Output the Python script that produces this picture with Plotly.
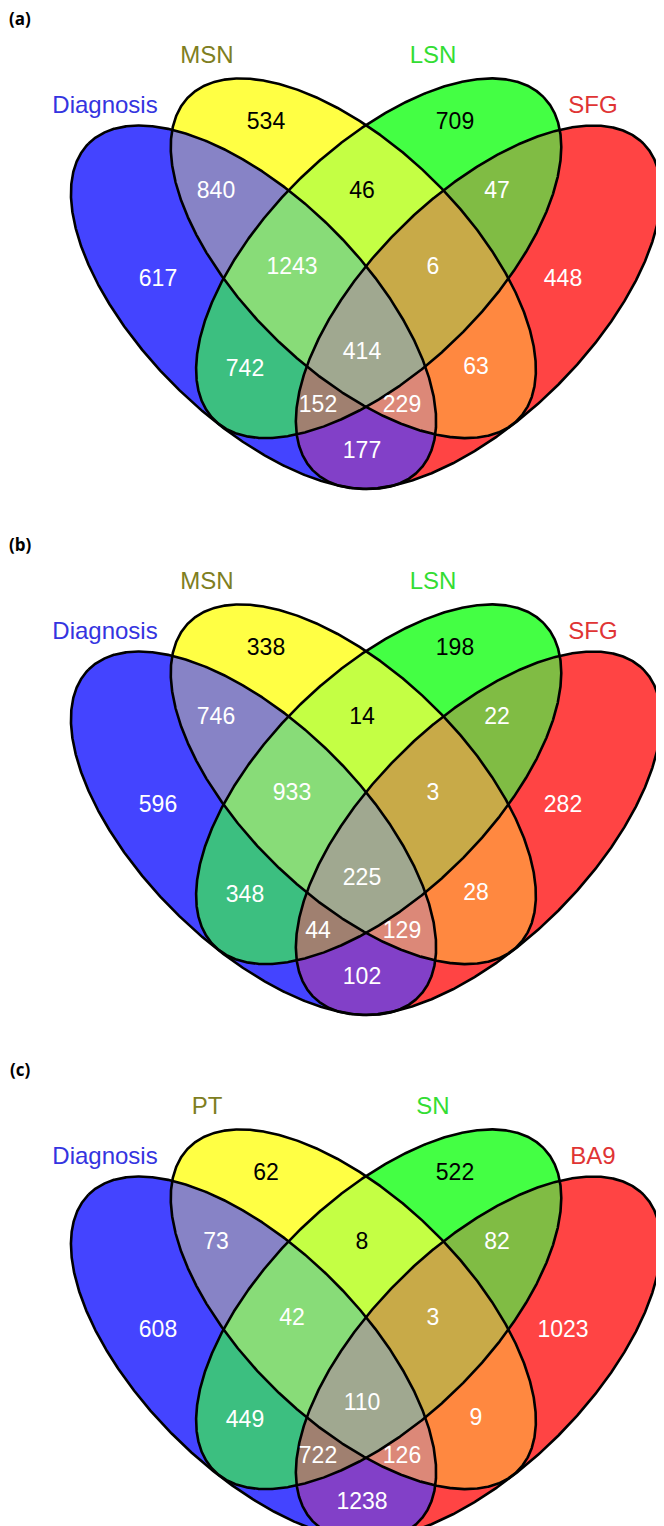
import numpy as np
import plotly.graph_objects as go

# ---------------- data ----------------
panel_tags = ["(a)", "(b)", "(c)"]
set_names_a = ["Diagnosis", "MSN", "LSN", "SFG"]
set_names_b = ["Diagnosis", "MSN", "LSN", "SFG"]
set_names_c = ["Diagnosis", "PT", "SN", "BA9"]
# membership flags in order (Diagnosis, 2nd, 3rd, 4th set)
region_keys = ["1000", "0100", "0010", "0001", "1100", "0110", "0011", "1110",
               "0111", "1010", "1111", "0101", "1011", "1101", "1001"]
counts_a = [617, 534, 709, 448, 840, 46, 47, 1243, 6, 742, 414, 63, 152, 229, 177]
counts_b = [596, 338, 198, 282, 746, 14, 22, 933, 3, 348, 225, 28, 44, 129, 102]
counts_c = [608, 62, 522, 1023, 73, 8, 82, 42, 3, 449, 110, 9, 722, 126, 1238]

# ---------------- layout / geometry ----------------
W, H = 664, 1526
PAGE_MARGIN = 8          # default <body> margin of the html page
AXIS_X = 366.0
panel_dy = [0, 526, 1051]

# outline samples (pixel coords of panel a) used to fit the ellipse shapes
blue_fit_pts = [(366, 266), (289, 191), (175, 130), (150, 126), (73, 200), (73, 220),
                (100, 290), (170, 380), (366, 489), (413, 477), (434, 435), (427, 370)]
yellow_fit_pts = [(366, 126), (365, 409), (224, 278), (443, 191), (175, 130), (178, 107),
                  (245, 77), (525, 310), (534, 350), (535, 380), (532, 405), (482, 430),
                  (435, 435)]


def fit_ellipse(pts):
    pts = np.asarray(pts, float)
    m = pts.mean(0)
    s = pts.std()
    x = (pts[:, 0] - m[0]) / s
    y = (pts[:, 1] - m[1]) / s
    M = np.column_stack([x * x, x * y, y * y, x, y, np.ones_like(x)])
    _, _, vt = np.linalg.svd(M)
    a, b, c, d, e, f = vt[-1]
    x0, y0 = np.linalg.solve(np.array([[2 * a, b], [b, 2 * c]]), [-d, -e])
    fp = f + (d * x0 + e * y0) / 2
    Q = np.array([[a, b / 2], [b / 2, c]]) / (-fp)
    w, V = np.linalg.eigh(Q)
    semi = s / np.sqrt(w)
    cx, cy = x0 * s + m[0], y0 * s + m[1]
    i = int(np.argmax(semi))
    ang = np.arctan2(V[1, i], V[0, i])
    return (cx, cy, semi[i], semi[1 - i], ang)


def mirror(E):
    cx, cy, rx, ry, ang = E
    return (2 * AXIS_X - cx, cy, rx, ry, np.pi - ang)


E_blue = fit_ellipse(blue_fit_pts)
E_yel = fit_ellipse(yellow_fit_pts)
ellipses = [E_blue, E_yel, mirror(E_yel), mirror(E_blue)]


def ell_pts(E, dy=0.0, n=1441):
    t = np.linspace(0, 2 * np.pi, n)
    cx, cy, rx, ry, ang = E
    ca, sa = np.cos(ang), np.sin(ang)
    x = cx + rx * np.cos(t) * ca - ry * np.sin(t) * sa
    y = cy + rx * np.cos(t) * sa + ry * np.sin(t) * ca + dy
    return x, y


def inside(E, x, y, dy=0.0, eps=1e-6):
    cx, cy, rx, ry, ang = E
    ca, sa = np.cos(ang), np.sin(ang)
    ddx, ddy = x - cx, y - (cy + dy)
    u = (ddx * ca + ddy * sa) / rx
    v = (-ddx * sa + ddy * ca) / ry
    return u * u + v * v <= 1 + eps


def inter_poly(idx, dy):
    xs, ys = [], []
    for i in idx:
        x, y = ell_pts(ellipses[i], dy)
        m = np.ones_like(x, bool)
        for j in idx:
            if j != i:
                m &= inside(ellipses[j], x, y, dy)
        xs.append(x[m])
        ys.append(y[m])
    x = np.concatenate(xs)
    y = np.concatenate(ys)
    if len(x) < 3:
        return None
    c0, c1 = x.mean(), y.mean()
    o = np.argsort(np.arctan2(y - c1, x - c0))
    x, y = x[o], y[o]
    return np.append(x, x[0]), np.append(y, y[0])


region_color = {
    "1000": "#4444FF", "0100": "#FFFF44", "0010": "#44FF44", "0001": "#FF4444",
    "1100": "#8783C6", "0110": "#C4FF44", "0011": "#80BC44", "1010": "#3CBF80",
    "0101": "#FF8840", "1001": "#8240C8",
    "1110": "#88DC78", "0111": "#C8AA48", "1011": "#A08070", "1101": "#DC8878",
    "1111": "#A0A890",
}
dark_text_keys = {"0100", "0010", "0110"}
count_pos = {
    "1000": (158, 280), "0100": (266, 123), "0010": (455, 123), "0001": (563, 280),
    "1100": (216, 192), "0110": (362, 192), "0011": (497, 192), "1110": (292, 268),
    "0111": (433, 268), "1010": (245, 370), "1111": (362, 353), "0101": (476, 368),
    "1011": (318, 406), "1101": (402, 406), "1001": (362, 452),
}
set_label_pos = [(105, 107), (207, 57), (433, 57), (593, 107)]
set_label_colors = ["#3434E0", "#7E7E22", "#33DD33", "#E03434"]
tag_pos = (20, 18)

fig = go.Figure()

panels = [(set_names_a, counts_a), (set_names_b, counts_b), (set_names_c, counts_c)]
for p, (names, counts) in enumerate(panels):
    dy = panel_dy[p]
    # fills, painter's order by number of sets
    for level in (1, 2, 3, 4):
        for key in region_keys:
            idx = [i for i, ch in enumerate(key) if ch == "1"]
            if len(idx) != level:
                continue
            if level == 1:
                x, y = ell_pts(ellipses[idx[0]], dy)
            else:
                poly = inter_poly(idx, dy)
                if poly is None:
                    continue
                x, y = poly
            fig.add_trace(go.Scatter(x=x, y=y, mode="lines", fill="toself",
                                     fillcolor=region_color[key],
                                     line=dict(width=0, color=region_color[key]),
                                     hoverinfo="skip", showlegend=False))
    # outlines
    for E in ellipses:
        x, y = ell_pts(E, dy)
        fig.add_trace(go.Scatter(x=x, y=y, mode="lines",
                                 line=dict(color="black", width=2.6),
                                 hoverinfo="skip", showlegend=False))
    # counts
    fig.add_trace(go.Scatter(
        x=[count_pos[k][0] for k in region_keys],
        y=[count_pos[k][1] + dy for k in region_keys],
        mode="text", text=[str(v) for v in counts],
        textposition="middle center",
        textfont=dict(family="Liberation Sans, Arial, sans-serif", size=23,
                      color=["black" if k in dark_text_keys else "white" for k in region_keys]),
        hoverinfo="skip", showlegend=False))
    # set names
    fig.add_trace(go.Scatter(
        x=[q[0] for q in set_label_pos], y=[q[1] + dy for q in set_label_pos],
        mode="text", text=names, textposition="middle center",
        textfont=dict(family="Liberation Sans, Arial, sans-serif", size=24,
                      color=set_label_colors),
        hoverinfo="skip", showlegend=False))
    fig.add_annotation(x=tag_pos[0], y=tag_pos[1] + dy, text="<b>" + panel_tags[p] + "</b>",
                       showarrow=False, xref="x", yref="y",
                       font=dict(family="Open Sans, sans-serif", size=17, color="black"))

fig.update_layout(
    width=W - PAGE_MARGIN, height=H - PAGE_MARGIN,
    margin=dict(l=0, r=0, t=0, b=0),
    paper_bgcolor="white", plot_bgcolor="white",
    xaxis=dict(range=[PAGE_MARGIN, W], visible=False, fixedrange=True),
    yaxis=dict(range=[H, PAGE_MARGIN], visible=False, fixedrange=True),
    showlegend=False,
)
fig.write_html("out.html")
